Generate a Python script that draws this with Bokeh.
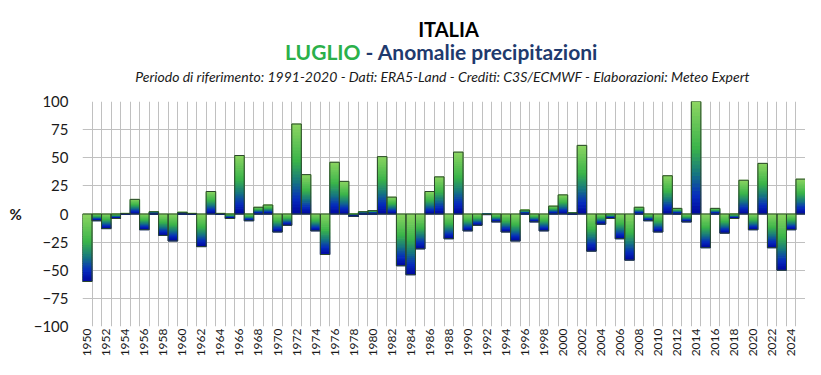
import numpy as np
from bokeh.plotting import figure
from bokeh.layouts import column
from bokeh.models import FixedTicker, ColumnDataSource
from bokeh.core.properties import value
from bokeh.embed import file_html
from bokeh.resources import INLINE

# ---- data ----
years = list(range(1950, 2026))
anomalies = [
    -60, -6, -13, -4, 0.5, 13, -14, 2, -19, -24,      # 1950-1959
    1.5, 0.5, -29, 20, 0.5, -4, 52, -6, 6, 8,         # 1960-1969
    -16, -10, 80, 35, -15, -36, 46, 29, -2, 2,        # 1970-1979
    3, 51, 15, -46, -54, -31, 20, 33, -22, 55,        # 1980-1989
    -15, -10, -0.5, -7, -16, -24, 3.5, -7, -15, 7,    # 1990-1999
    17, 1, 61, -33, -9, -4, -22, -41, 6, -6,          # 2000-2009
    -16, 34, 5, -7, 100, -30, 5, -17, -4, 30,         # 2010-2019
    -14, 45, -30, -50, -14, 31,                       # 2020-2025
]
y_ticks = [-100, -75, -50, -25, 0, 25, 50, 75, 100]
x_label_years = list(range(1950, 2025, 2))
title_main = "ITALIA"
title_month = "LUGLIO"
title_rest = "- Anomalie precipitazioni"
subtitle = ("Periodo di riferimento: 1991-2020 - Dati: ERA5-Land - Crediti: "
            "C3S/ECMWF - Elaborazioni: Meteo Expert")

# ---- style ----
FONT = "Lato"
STOPS = [(0.0, (142, 214, 98)), (0.42, (58, 180, 74)), (0.65, (22, 118, 128)),
         (0.84, (6, 44, 190)), (1.0, (0, 8, 160))]
N_SLICES = 30


def grad_color(t):
    for (t0, c0), (t1, c1) in zip(STOPS[:-1], STOPS[1:]):
        if t <= t1:
            f = (t - t0) / (t1 - t0)
            c = [round(a + (b - a) * f) for a, b in zip(c0, c1)]
            return "#%02x%02x%02x" % tuple(c)
    return "#%02x%02x%02x" % STOPS[-1][1]


W = 805
HEAD_H = 93
CH_H = 266
LEFT_B = 82
RIGHT_B = 0

# ---- header figure (no axes; x data units == canvas pixels) ----
h = figure(width=W, height=HEAD_H, output_backend="svg", toolbar_location=None,
           x_range=(LEFT_B, W - RIGHT_B), y_range=(HEAD_H, 0),
           x_axis_location=None, y_axis_location=None,
           min_border_left=LEFT_B, min_border_right=RIGHT_B,
           min_border_top=0, min_border_bottom=0)
h.grid.visible = False
h.outline_line_color = None
h.text(x=[448], y=[28], text=[title_main], text_font=value(FONT), text_font_style="bold",
       text_font_size="20px", text_color="#000000", text_align="center",
       text_baseline="middle")
h.text(x=[360], y=[51], text=[title_month], text_font=value(FONT), text_font_style="bold",
       text_font_size="21px", text_color="#2bb04a", text_align="right",
       text_baseline="middle")
h.text(x=[365], y=[51], text=[title_rest], text_font=value(FONT), text_font_style="bold",
       text_font_size="21px", text_color="#1f3a6e", text_align="left",
       text_baseline="middle")
h.text(x=[442], y=[76], text=[subtitle], text_font=value(FONT), text_font_style="italic",
       text_font_size="14px", text_color="#1a1a1a", text_align="center",
       text_baseline="middle")

# ---- chart figure ----
p = figure(width=W, height=CH_H, output_backend="svg", toolbar_location=None,
           x_range=(1949.5, 2025.5), y_range=(-100, 100),
           min_border_left=LEFT_B, min_border_right=RIGHT_B, min_border_top=8,
           min_border_bottom=30)
p.outline_line_color = None

left, right, bot, top, cols = [], [], [], [], []
bw = 1.0
for yr, v in zip(years, anomalies):
    hi, lo = max(v, 0), min(v, 0)
    span = hi - lo
    for i in range(N_SLICES):
        a = hi - span * i / N_SLICES
        b = hi - span * (i + 1) / N_SLICES
        left.append(yr - bw / 2)
        right.append(yr + bw / 2)
        top.append(a)
        bot.append(b)
        cols.append(grad_color((i + 0.5) / N_SLICES))
src = ColumnDataSource(dict(left=left, right=right, top=top, bottom=bot, color=cols))
p.quad(left="left", right="right", top="top", bottom="bottom", fill_color="color",
       line_color="color", line_width=1, source=src)

p.vbar(x=years, top=[max(v, 0) for v in anomalies],
       bottom=[min(v, 0) for v in anomalies], width=bw,
       fill_color=None, line_color="#2b472b", line_width=1)

p.xgrid.ticker = FixedTicker(ticks=[y - 0.5 for y in years] + [years[-1] + 0.5])
p.ygrid.ticker = FixedTicker(ticks=y_ticks)
for g in (p.xgrid, p.ygrid):
    g.grid_line_color = "#c0c0c0"
    g.grid_line_width = 1

p.xaxis.ticker = FixedTicker(ticks=x_label_years)
p.yaxis.ticker = FixedTicker(ticks=y_ticks)
for ax in (p.xaxis, p.yaxis):
    ax.axis_line_color = None
    ax.major_tick_line_color = None
    ax.minor_tick_line_color = None
    ax.major_tick_out = 0
    ax.major_tick_in = 0
    ax.major_label_text_font = FONT
    ax.major_label_text_color = "#1a1a1a"
p.xaxis.major_label_orientation = np.pi / 2
p.xaxis.major_label_text_font_size = "12px"
p.xaxis.major_label_standoff = 2
p.yaxis.major_label_text_font_size = "15px"
p.yaxis.major_label_standoff = 14
p.yaxis.axis_label = "%"
p.yaxis.axis_label_text_font = FONT
p.yaxis.axis_label_text_font_style = "bold"
p.yaxis.axis_label_text_font_size = "15px"
p.yaxis.axis_label_text_color = "#1a1a1a"
p.yaxis.axis_label_standoff = 9
try:
    p.yaxis.axis_label_orientation = "horizontal"
except Exception:
    pass

layout = column(h, p, spacing=0)
open("out.html", "w").write(file_html(layout, INLINE))
